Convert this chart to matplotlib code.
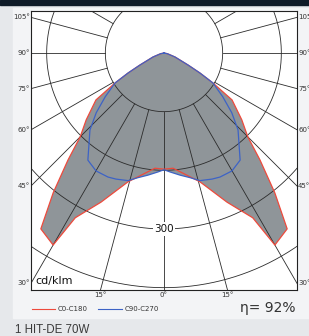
import numpy as np
import matplotlib.pyplot as plt
from matplotlib.patches import Rectangle
from matplotlib.lines import Line2D

# Lichtstärkeverteilung (cd/klm), Winkel von 0° (unten) aus gemessen, symmetrisch
red_ang = [0, 4.5, 15.6, 22.9, 28.3, 30.0, 35.0, 38.4, 41.9, 45.0, 49.3, 55.4, 58.5, 60.9, 63.4, 70, 78, 90]
red_val = [198, 197, 228, 276, 319, 378, 366, 304, 245, 202, 175, 141, 98, 70, 46, 20, 6, 0]

blue_ang = [0, 2.9, 7.5, 11.75, 15.7, 20.85, 24.3, 29.95, 33.9, 35.4, 43.9, 48.6, 53.3, 58.5, 60.9, 63.4, 70, 78, 90]
blue_val = [199, 203, 210, 217, 226, 230, 232, 232, 226, 224, 182, 154, 125, 98, 70, 46, 20, 6, 0]

rings = [100, 200, 300, 400, 500]
spokes = list(range(-180, 181, 15))
left_labels = [105, 90, 75, 60, 45, 30]
bottom_labels = [-15, 0, 15]

W, H = 309, 336
RED = '#ee4a3c'
BLUE = '#3d63c6'
GRAY = '#8f9599'
LINE = '#2b2b2b'
TXT = '#333333'


def fx(px):
    return px / W


def fy(py):
    return 1 - py / H


def to_xy(ang, val):
    # spiegeln und in kartesische Koordinaten umrechnen
    a = np.deg2rad(np.concatenate([-np.array(ang)[::-1], np.array(ang)]))
    v = np.concatenate([np.array(val)[::-1], np.array(val)])
    return v * np.sin(a), -v * np.cos(a)


fig = plt.figure(figsize=(W / 100, H / 100), dpi=100)
fig.patch.set_facecolor('#e6e8eb')
fig.add_artist(Rectangle((fx(13), fy(318)), (W - 13) / W, 310 / H,
                         transform=fig.transFigure, color='#f3f4f6', zorder=0))
fig.add_artist(Rectangle((0, fy(5)), 1, 5 / H, transform=fig.transFigure,
                         color='#0f1b28', zorder=0))

ax = fig.add_axes([fx(31), fy(290), 266 / W, 279 / H])
xmax = 226.7
ymin, ymax = -404, 71.6
ax.set_xlim(-xmax, xmax)
ax.set_ylim(ymin, ymax)
ax.set_xticks([])
ax.set_yticks([])
ax.set_facecolor('white')
for s in ax.spines.values():
    s.set_linewidth(0.8)
    s.set_color('#222222')

# Fläche (Vereinigung beider Kurven)
rx, ry = to_xy(red_ang, red_val)
bx, by = to_xy(blue_ang, blue_val)
ax.fill(rx, ry, color=GRAY, lw=0, zorder=1)
ax.fill(bx, by, color=GRAY, lw=0, zorder=1)

# Raster
t = np.linspace(0, 2 * np.pi, 400)
for r in rings:
    ax.plot(r * np.sin(t), r * np.cos(t), color=LINE, lw=0.6, zorder=2)
for a in spokes:
    ar = np.deg2rad(a)
    ax.plot([100 * np.sin(ar), 1000 * np.sin(ar)], [-100 * np.cos(ar), -1000 * np.cos(ar)],
            color=LINE, lw=0.6, zorder=2)

# Kurven
ax.plot(rx, ry, color=RED, lw=0.9, zorder=3)
ax.plot(bx, by, color=BLUE, lw=0.9, zorder=3)

# Winkelbeschriftung
for a in left_labels:
    ar = np.deg2rad(a)
    y = -xmax / np.sin(ar) * np.cos(ar)
    ax.text(-xmax - 2, y, f'{a}°', ha='right', va='center', fontsize=5, color=TXT, clip_on=False)
    ax.text(xmax + 2, y, f'{a}°', ha='left', va='center', fontsize=5, color=TXT, clip_on=False)
for a in bottom_labels:
    ar = np.deg2rad(a)
    x = -ymin * np.tan(ar)
    ax.text(x, ymin - 4, f'{abs(a)}°', ha='center', va='top', fontsize=5, color=TXT, clip_on=False)

ax.text(0, -300, '300', ha='center', va='center', fontsize=7.5, color='#111111', zorder=4,
        bbox=dict(boxstyle='square,pad=0.15', fc='white', ec='none'))

fig.text(fx(35), fy(281), 'cd/klm', fontsize=8, va='center', color='#111111')

# Legende
fig.add_artist(Line2D([fx(32), fx(55)], [fy(309), fy(309)], color=RED, lw=0.8))
fig.text(fx(58), fy(309), 'C0-C180', fontsize=5, va='center', color=TXT)
fig.add_artist(Line2D([fx(98), fx(122)], [fy(309), fy(309)], color=BLUE, lw=0.8))
fig.text(fx(125), fy(309), 'C90-C270', fontsize=5, va='center', color=TXT)

fig.text(fx(296), fy(308), 'η= 92%', fontsize=10, ha='right', va='center', color=TXT)
fig.text(fx(15), fy(330), '1 HIT-DE 70W', fontsize=8.3, va='center', color='#3a3a3a',
         family='Liberation Sans')

fig.savefig('out.png', dpi=100, facecolor=fig.get_facecolor())
